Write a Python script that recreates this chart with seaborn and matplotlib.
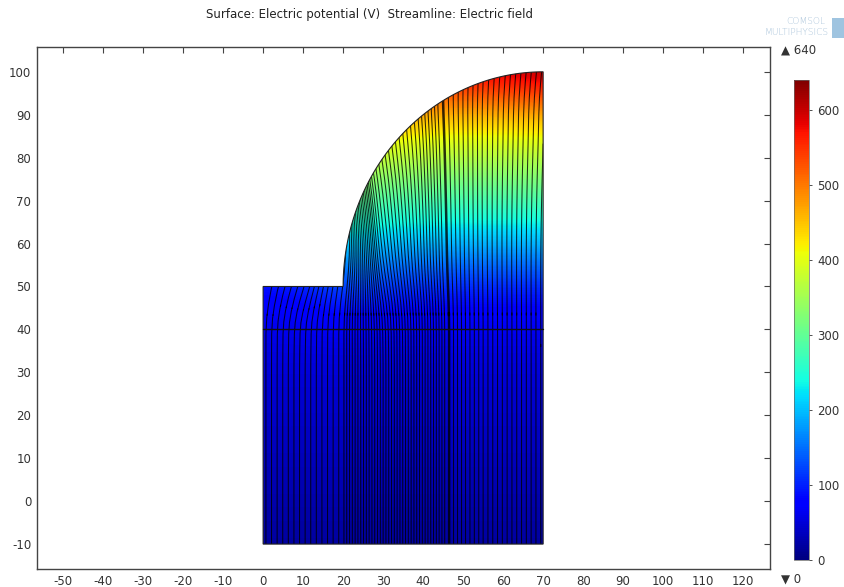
import numpy as np
import matplotlib
matplotlib.use("Agg")
import matplotlib.pyplot as plt
import seaborn as sns
from matplotlib.patches import Polygon, Rectangle

# ── data ──────────────────────────────────────────────────────────────
# electric potential (V) sampled on a 10-unit grid, rows = y, cols = x
grid_x = [0, 10, 20, 30, 40, 50, 60, 70]
grid_y = [-10, 0, 10, 20, 30, 40, 50, 60, 70, 80, 90, 100]
potential = [
    [18, 18, 18, 18, 18, 18, 18, 18],
    [26, 26, 26, 26, 26, 26, 26, 26],
    [34, 34, 34, 34, 34, 34, 34, 34],
    [42, 42, 42, 42, 42, 42, 42, 42],
    [50, 50, 50, 50, 50, 50, 50, 50],
    [60, 60, 61, 60, 60, 60, 60, 60],
    [80, 88, 125, 110, 101, 99, 98, 98],
    [150, 190, 215, 199, 195, 194, 193, 194],
    [320, 310, 300, 286, 281, 279, 279, 281],
    [420, 410, 395, 370, 364, 362, 362, 365],
    [510, 500, 490, 472, 458, 455, 455, 458],
    [630, 625, 615, 605, 600, 600, 610, 630],
]
# x positions where the streamlines cross the bottom edge (y = -10)
stream_start_x = [0.7, 2.1, 3.5, 4.9, 6.3, 7.7, 9.1, 10.5, 11.9, 13.3, 14.7,
                  16.1, 17.5, 18.9,
                  20.2, 20.9, 21.6, 22.3, 23.0, 23.7, 24.4, 25.1, 25.8, 26.5,
                  27.2, 27.9, 28.6, 29.3, 30.0, 30.7, 31.4, 32.1, 32.8, 33.5,
                  34.2, 34.9, 35.6, 36.3, 37.0, 37.7, 38.4, 39.1, 39.8, 40.5,
                  41.2, 41.9, 42.6, 43.3, 44.0, 44.7, 45.4,
                  47.6, 48.6, 49.6, 50.6, 51.7, 52.8, 53.9, 55.0, 56.2, 57.4,
                  58.6, 59.8, 61.0, 62.2, 63.4, 64.6, 65.8, 67.0, 68.2, 69.4]
thick_start_x = [46.5]

x_ticks = list(range(-50, 130, 10))
y_ticks = list(range(-10, 110, 10))
cbar_ticks = [0, 100, 200, 300, 400, 500, 600]
v_min, v_max = 0, 640

# ── style ─────────────────────────────────────────────────────────────
sns.set_style("white")
plt.rcParams['font.family'] = ['DejaVu Sans']
cmap = matplotlib.colormaps['jet']
txt = '#333333'

fig = plt.figure(figsize=(8.44, 5.87), dpi=100)
ax = fig.add_axes([0.0435, 0.0307, 0.869, 0.889])

# geometry: rectangle with a step and a quarter-circle cap (centre 70,50 r 50)
ang = np.linspace(np.pi / 2, np.pi, 90)
arc = np.column_stack([70 + 50 * np.cos(ang), 50 + 50 * np.sin(ang)])
outline = np.vstack([[[0, -10], [70, -10], [70, 100]], arc, [[20, 50], [0, 50]]])
domain = Polygon(outline, closed=True, facecolor='none', edgecolor='none')
ax.add_patch(domain)

phi = np.array(potential, dtype=float)
im = ax.imshow(phi, origin='lower', extent=[-5, 75, -15, 105], cmap=cmap,
               vmin=v_min, vmax=v_max, interpolation='bicubic',
               interpolation_stage='data', aspect='auto', zorder=1)
im.set_clip_path(domain)

# streamlines follow the gradient of the potential
dphi_dy, dphi_dx = np.gradient(phi, grid_y, grid_x)
X, Y = np.meshgrid(grid_x, grid_y)
for starts, lw in [(stream_start_x, 0.75), (thick_start_x, 1.8)]:
    pts = np.column_stack([starts, np.full(len(starts), -5.0)])
    sp = ax.streamplot(X, Y, dphi_dx, dphi_dy, start_points=pts, color='black',
                       linewidth=lw, arrowstyle='-', arrowsize=0.01,
                       broken_streamlines=False, maxlength=20,
                       integration_direction='both', zorder=2)
    sp.lines.set_clip_path(domain)
    sp.lines.set_alpha(0.8)

ax.add_patch(Polygon(outline, closed=True, facecolor='none',
                     edgecolor='#222222', linewidth=0.8, zorder=3))
ax.plot([0, 70], [40, 40], color='#111111', linewidth=1.0, zorder=3)

ax.set_xlim(-56.6, 126.75)
ax.set_ylim(-15.8, 105.75)
ax.set_xticks(x_ticks)
ax.set_yticks(y_ticks)
ax.set_xticklabels([str(t) for t in x_ticks])
ax.set_yticklabels([str(t) for t in y_ticks])
ax.tick_params(direction='in', top=True, right=True, length=4, width=0.8,
               color='#444444', labelsize=8.5, labelcolor=txt, pad=4)
for s in ax.spines.values():
    s.set_color('#444444')
    s.set_linewidth(1.0)

# colour bar
cax = fig.add_axes([0.941, 0.046, 0.0178, 0.818])
cb = fig.colorbar(im, cax=cax, ticks=cbar_ticks)
cb.outline.set_edgecolor('#666666')
cb.outline.set_linewidth(0.5)
cax.tick_params(length=2, width=0.6, color='#333333', labelsize=8.5,
                labelcolor=txt, pad=4)

fig.text(0.925, 0.915, "\u25B2 640", fontsize=8.5, color=txt, va='center')
fig.text(0.925, 0.014, "\u25BC 0", fontsize=8.5, color=txt, va='center')

fig.text(0.438, 0.976, "Surface: Electric potential (V)  Streamline: Electric field",
         fontsize=8.5, color='#222222', ha='center', va='center')

# logo
fig.text(0.978, 0.963, "COMSOL", fontsize=6.5, color='#a9c3da', ha='right',
         va='center', fontweight='light')
fig.text(0.982, 0.945, "MULTIPHYSICS", fontsize=6.5, color='#a9c3da', ha='right',
         va='center', fontweight='light')
fig.patches.append(Rectangle((0.986, 0.935), 0.014, 0.034, transform=fig.transFigure,
                             facecolor='#9fc4e0', edgecolor='none', figure=fig))

fig.savefig('out.png', dpi=100)
